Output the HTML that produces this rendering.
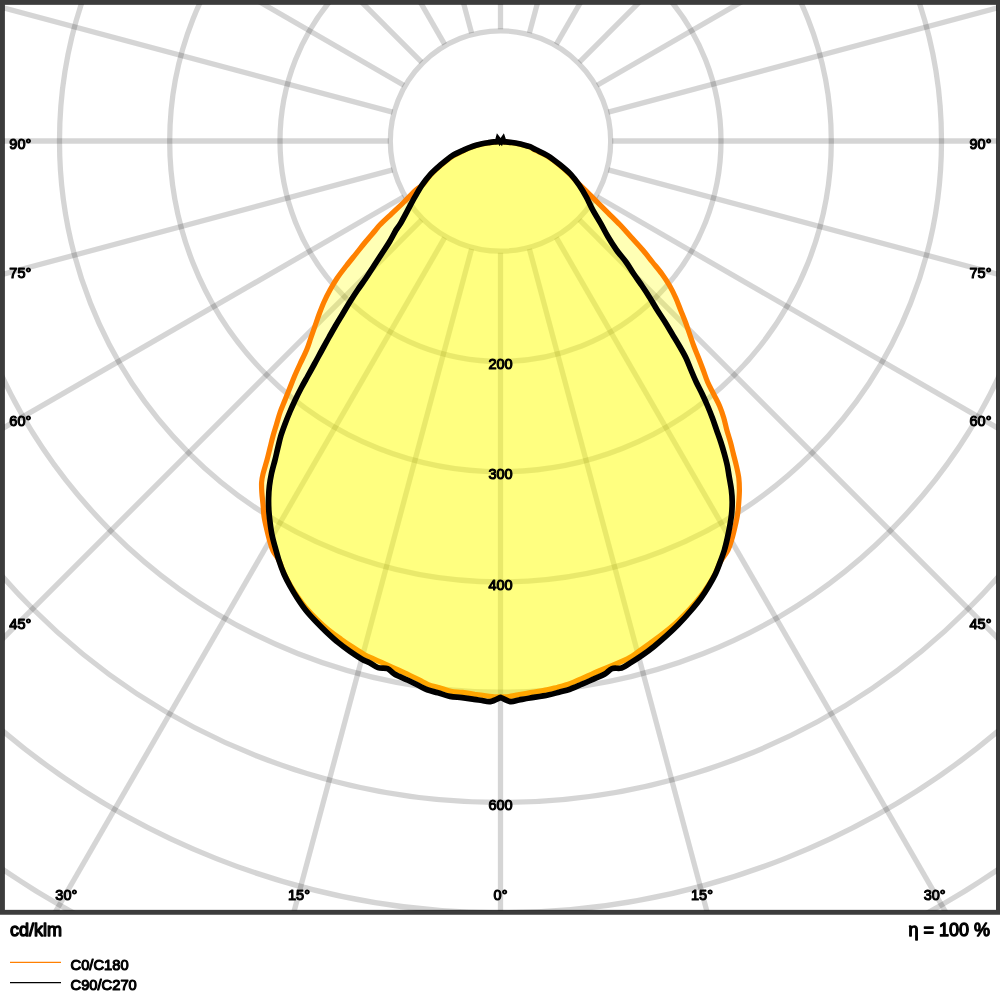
<!DOCTYPE html>
<html><head><meta charset="utf-8"><title>LDC</title>
<style>
html,body{margin:0;padding:0;background:#fff;}
body{width:1000px;height:1000px;overflow:hidden;font-family:"Liberation Sans",sans-serif;}
svg{display:block;}
text{font-family:"Liberation Sans",sans-serif;fill:#000;stroke:#000;paint-order:stroke;stroke-linejoin:round;}
</style></head><body>
<svg width="1000" height="1000" viewBox="0 0 1000 1000">
<rect width="1000" height="1000" fill="#fff"/>
<defs><clipPath id="c"><rect x="4.0" y="4.0" width="992.9" height="906.8"/></clipPath><clipPath id="ci"><rect x="4.8" y="4.8" width="990.8" height="905.1"/></clipPath></defs>
<rect x="2.45" y="2.4" width="996" height="909.9" fill="none" stroke="#3c3c3c" stroke-width="4.9"/>
<g clip-path="url(#c)">
<g fill="none" stroke="#000" stroke-opacity="0.165" stroke-width="5.3">
<circle cx="500.5" cy="141.0" r="110.2"/>
<circle cx="500.5" cy="141.0" r="220.5"/>
<circle cx="500.5" cy="141.0" r="330.8"/>
<circle cx="500.5" cy="141.0" r="441.0"/>
<circle cx="500.5" cy="141.0" r="551.2"/>
<circle cx="500.5" cy="141.0" r="661.5"/>
<circle cx="500.5" cy="141.0" r="771.8"/>
<circle cx="500.5" cy="141.0" r="882.0"/>
<circle cx="500.5" cy="141.0" r="992.2"/>
<line x1="500.50" y1="252.65" x2="500.50" y2="1341.00"/>
<line x1="529.40" y1="248.85" x2="811.08" y2="1300.11"/>
<line x1="556.33" y1="237.69" x2="1100.50" y2="1180.23"/>
<line x1="579.45" y1="219.95" x2="1349.03" y2="989.53"/>
<line x1="597.19" y1="196.83" x2="1539.73" y2="741.00"/>
<line x1="608.35" y1="169.90" x2="1659.61" y2="451.58"/>
<line x1="612.15" y1="141.00" x2="1700.50" y2="141.00"/>
<line x1="608.35" y1="112.10" x2="1659.61" y2="-169.58"/>
<line x1="597.19" y1="85.18" x2="1539.73" y2="-459.00"/>
<line x1="579.45" y1="62.05" x2="1349.03" y2="-707.53"/>
<line x1="556.33" y1="44.31" x2="1100.50" y2="-898.23"/>
<line x1="529.40" y1="33.15" x2="811.08" y2="-1018.11"/>
<line x1="500.50" y1="29.35" x2="500.50" y2="-1059.00"/>
<line x1="471.60" y1="33.15" x2="189.92" y2="-1018.11"/>
<line x1="444.67" y1="44.31" x2="-99.50" y2="-898.23"/>
<line x1="421.55" y1="62.05" x2="-348.03" y2="-707.53"/>
<line x1="403.81" y1="85.17" x2="-538.73" y2="-459.00"/>
<line x1="392.65" y1="112.10" x2="-658.61" y2="-169.58"/>
<line x1="388.85" y1="141.00" x2="-699.50" y2="141.00"/>
<line x1="392.65" y1="169.90" x2="-658.61" y2="451.58"/>
<line x1="403.81" y1="196.83" x2="-538.73" y2="741.00"/>
<line x1="421.55" y1="219.95" x2="-348.03" y2="989.53"/>
<line x1="444.67" y1="237.69" x2="-99.50" y2="1180.23"/>
<line x1="471.60" y1="248.85" x2="189.92" y2="1300.11"/>
</g>
<path d="M500.4,141.5C499.3,141.6 496.1,141.9 494.0,142.1C491.9,142.3 490.0,142.6 488.0,142.9C486.0,143.2 484.0,143.6 482.0,144.0C480.0,144.4 478.0,144.9 476.0,145.5C474.0,146.1 472.0,146.8 470.0,147.6C468.0,148.4 467.0,148.8 464.0,150.3C461.0,151.8 456.0,153.9 452.0,156.5C448.0,159.1 443.6,162.9 440.0,166.0C436.4,169.1 433.2,171.9 430.4,175.0C427.6,178.1 425.4,182.0 423.0,184.5C420.6,187.0 419.2,187.1 416.0,190.0C412.8,192.9 408.0,198.1 404.0,202.0C400.0,205.9 396.0,209.6 392.0,213.4C388.0,217.2 382.7,222.0 380.0,224.8C377.3,227.6 378.0,227.1 375.6,230.0C373.2,232.9 368.7,238.0 365.4,242.0C362.1,246.0 359.0,250.0 355.8,254.0C352.6,258.0 349.3,262.0 346.2,266.0C343.1,270.0 339.9,274.0 337.2,278.0C334.5,282.0 332.2,286.0 330.0,290.0C327.8,294.0 325.8,298.0 324.0,302.0C322.2,306.0 320.7,310.0 319.2,314.0C317.7,318.0 316.4,322.0 315.0,326.0C313.6,330.0 312.2,334.0 310.8,338.0C309.4,342.0 308.4,345.7 306.6,350.0C304.8,354.3 302.0,359.7 300.0,364.0C298.0,368.3 296.3,372.0 294.6,376.0C292.9,380.0 291.4,384.0 289.8,388.0C288.2,392.0 286.6,396.0 285.0,400.0C283.4,404.0 281.6,408.0 280.2,412.0C278.8,416.0 277.8,420.0 276.6,424.0C275.4,428.0 274.1,432.0 273.0,436.0C271.9,440.0 271.0,444.0 270.0,448.0C269.0,452.0 268.2,455.7 267.0,460.0C265.8,464.3 263.9,470.3 263.0,474.0C262.1,477.7 261.8,479.4 261.6,482.4C261.4,485.4 261.6,488.4 261.8,492.0C262.0,495.6 262.6,500.0 263.0,504.0C263.4,508.0 263.4,512.0 264.0,516.0C264.6,520.0 265.5,524.0 266.4,528.0C267.3,532.0 268.3,536.2 269.4,540.0C270.5,543.8 271.4,547.5 273.0,550.8C274.6,554.1 276.9,556.1 278.8,560.0C280.7,563.9 282.3,569.6 284.2,573.9C286.2,578.2 288.3,581.8 290.6,585.7C292.9,589.6 295.4,593.5 298.1,597.4C300.9,601.3 303.8,605.3 306.9,609.0C310.0,612.6 313.3,615.9 316.8,619.3C320.3,622.7 324.0,626.2 328.0,629.5C332.0,632.7 336.6,636.1 340.8,639.0C344.9,642.0 348.9,644.7 352.9,647.3C356.8,649.9 361.4,652.9 364.6,654.7C367.8,656.5 364.4,654.7 372.0,658.2C379.6,661.7 401.9,671.6 410.2,675.5C418.6,679.4 419.2,680.0 422.3,681.5C425.5,683.1 426.1,683.9 429.0,684.9C431.8,686.0 435.8,686.7 439.4,687.8C443.1,688.9 447.2,690.5 451.0,691.3C454.9,692.1 458.7,691.9 462.6,692.4C466.6,692.9 471.4,693.8 474.7,694.3C478.1,694.7 479.8,695.0 482.7,695.3C485.6,695.7 489.0,696.3 492.0,696.6C495.0,696.9 499.2,696.9 500.6,697.0C502.0,696.9 506.1,697.0 509.0,696.6C511.9,696.2 514.7,695.5 518.1,694.9C521.4,694.3 524.3,693.7 529.1,692.9C533.9,692.0 542.2,690.9 547.0,689.9C551.7,689.0 554.1,688.1 557.7,687.2C561.2,686.2 564.6,685.6 568.3,684.3C572.0,683.0 576.0,681.1 579.9,679.4C583.9,677.7 584.0,677.5 591.9,674.1C599.8,670.6 619.4,662.6 627.3,658.8C635.1,655.0 635.1,653.9 639.0,651.2C643.0,648.5 646.9,645.5 650.9,642.6C655.0,639.6 659.2,636.6 663.4,633.3C667.6,630.1 671.7,626.9 676.0,622.9C680.4,618.9 685.6,613.5 689.6,609.3C693.6,605.0 696.9,601.2 700.0,597.2C703.0,593.3 705.6,589.5 708.1,585.6C710.6,581.7 713.1,577.8 715.1,573.8C717.1,569.9 718.0,566.0 720.2,562.0C722.3,558.0 726.0,554.0 728.0,550.0C730.0,546.0 731.0,542.0 732.2,538.0C733.4,534.0 734.3,530.0 735.2,526.0C736.1,522.0 737.0,518.0 737.6,514.0C738.2,510.0 738.5,506.0 738.8,502.0C739.1,498.0 739.4,494.0 739.4,490.0C739.4,486.0 739.3,482.0 738.8,478.0C738.3,474.0 737.3,470.0 736.4,466.0C735.5,462.0 734.4,458.0 733.4,454.0C732.4,450.0 731.5,446.0 730.4,442.0C729.3,438.0 727.9,434.0 726.8,430.0C725.7,426.0 725.0,422.0 723.8,418.0C722.6,414.0 721.3,410.0 719.6,406.0C717.9,402.0 715.6,398.0 713.6,394.0C711.6,390.0 709.3,386.0 707.6,382.0C705.9,378.0 704.7,374.0 703.2,370.0C701.7,366.0 700.2,362.0 698.6,358.0C697.0,354.0 695.3,350.0 693.8,346.0C692.3,342.0 691.0,338.0 689.6,334.0C688.2,330.0 686.9,326.0 685.4,322.0C683.9,318.0 682.2,314.0 680.6,310.0C679.0,306.0 677.6,302.0 675.8,298.0C674.0,294.0 672.1,290.0 669.8,286.0C667.5,282.0 664.9,278.0 662.0,274.0C659.1,270.0 655.6,266.0 652.4,262.0C649.2,258.0 646.4,254.2 642.8,250.0C639.2,245.8 634.8,241.2 631.0,237.0C627.2,232.8 623.8,228.8 620.0,224.8C616.2,220.8 612.0,216.8 608.0,212.8C604.0,208.8 600.0,204.8 596.0,200.8C592.0,196.8 587.2,191.9 584.0,188.8C580.8,185.7 579.3,184.4 577.0,182.0C574.7,179.6 572.8,177.2 570.0,174.5C567.2,171.8 563.7,168.5 560.0,165.5C556.3,162.5 552.0,159.0 548.0,156.5C544.0,154.0 539.0,152.1 536.0,150.5C533.0,148.9 532.0,147.9 530.0,147.0C528.0,146.1 526.0,145.7 524.0,145.2C522.0,144.7 520.0,144.2 518.0,143.8C516.0,143.4 514.0,143.1 512.0,142.8C510.0,142.5 507.9,142.3 506.0,142.1C504.1,141.9 501.3,141.6 500.4,141.5Z" fill="#ffff00" fill-opacity="0.29"/>
<path d="M500.4,141.5C499.3,141.6 496.1,141.9 494.0,142.1C491.9,142.3 490.0,142.6 488.0,142.9C486.0,143.2 484.0,143.6 482.0,144.0C480.0,144.4 478.0,144.9 476.0,145.5C474.0,146.1 472.0,146.8 470.0,147.6C468.0,148.4 467.0,148.8 464.0,150.3C461.0,151.8 456.0,153.9 452.0,156.5C448.0,159.1 443.6,162.9 440.0,166.0C436.4,169.1 433.2,171.9 430.4,175.0C427.6,178.1 425.4,182.0 423.0,184.5C420.6,187.0 419.2,187.1 416.0,190.0C412.8,192.9 408.0,198.1 404.0,202.0C400.0,205.9 396.0,209.6 392.0,213.4C388.0,217.2 382.7,222.0 380.0,224.8C377.3,227.6 378.0,227.1 375.6,230.0C373.2,232.9 368.7,238.0 365.4,242.0C362.1,246.0 359.0,250.0 355.8,254.0C352.6,258.0 349.3,262.0 346.2,266.0C343.1,270.0 339.9,274.0 337.2,278.0C334.5,282.0 332.2,286.0 330.0,290.0C327.8,294.0 325.8,298.0 324.0,302.0C322.2,306.0 320.7,310.0 319.2,314.0C317.7,318.0 316.4,322.0 315.0,326.0C313.6,330.0 312.2,334.0 310.8,338.0C309.4,342.0 308.4,345.7 306.6,350.0C304.8,354.3 302.0,359.7 300.0,364.0C298.0,368.3 296.3,372.0 294.6,376.0C292.9,380.0 291.4,384.0 289.8,388.0C288.2,392.0 286.6,396.0 285.0,400.0C283.4,404.0 281.6,408.0 280.2,412.0C278.8,416.0 277.8,420.0 276.6,424.0C275.4,428.0 274.1,432.0 273.0,436.0C271.9,440.0 271.0,444.0 270.0,448.0C269.0,452.0 268.2,455.7 267.0,460.0C265.8,464.3 263.9,470.3 263.0,474.0C262.1,477.7 261.8,479.4 261.6,482.4C261.4,485.4 261.6,488.4 261.8,492.0C262.0,495.6 262.6,500.0 263.0,504.0C263.4,508.0 263.4,512.0 264.0,516.0C264.6,520.0 265.5,524.0 266.4,528.0C267.3,532.0 268.3,536.2 269.4,540.0C270.5,543.8 271.4,547.5 273.0,550.8C274.6,554.1 276.9,556.1 278.8,560.0C280.7,563.9 282.3,569.6 284.2,573.9C286.2,578.2 288.3,581.8 290.6,585.7C292.9,589.6 295.4,593.5 298.1,597.4C300.9,601.3 303.8,605.3 306.9,609.0C310.0,612.6 313.3,615.9 316.8,619.3C320.3,622.7 324.0,626.2 328.0,629.5C332.0,632.7 336.6,636.1 340.8,639.0C344.9,642.0 348.9,644.7 352.9,647.3C356.8,649.9 361.4,652.9 364.6,654.7C367.8,656.5 364.4,654.7 372.0,658.2C379.6,661.7 401.9,671.6 410.2,675.5C418.6,679.4 419.2,680.0 422.3,681.5C425.5,683.1 426.1,683.9 429.0,684.9C431.8,686.0 435.8,686.7 439.4,687.8C443.1,688.9 447.2,690.5 451.0,691.3C454.9,692.1 458.7,691.9 462.6,692.4C466.6,692.9 471.4,693.8 474.7,694.3C478.1,694.7 479.8,695.0 482.7,695.3C485.6,695.7 489.0,696.3 492.0,696.6C495.0,696.9 499.2,696.9 500.6,697.0C502.0,696.9 506.1,697.0 509.0,696.6C511.9,696.2 514.7,695.5 518.1,694.9C521.4,694.3 524.3,693.7 529.1,692.9C533.9,692.0 542.2,690.9 547.0,689.9C551.7,689.0 554.1,688.1 557.7,687.2C561.2,686.2 564.6,685.6 568.3,684.3C572.0,683.0 576.0,681.1 579.9,679.4C583.9,677.7 584.0,677.5 591.9,674.1C599.8,670.6 619.4,662.6 627.3,658.8C635.1,655.0 635.1,653.9 639.0,651.2C643.0,648.5 646.9,645.5 650.9,642.6C655.0,639.6 659.2,636.6 663.4,633.3C667.6,630.1 671.7,626.9 676.0,622.9C680.4,618.9 685.6,613.5 689.6,609.3C693.6,605.0 696.9,601.2 700.0,597.2C703.0,593.3 705.6,589.5 708.1,585.6C710.6,581.7 713.1,577.8 715.1,573.8C717.1,569.9 718.0,566.0 720.2,562.0C722.3,558.0 726.0,554.0 728.0,550.0C730.0,546.0 731.0,542.0 732.2,538.0C733.4,534.0 734.3,530.0 735.2,526.0C736.1,522.0 737.0,518.0 737.6,514.0C738.2,510.0 738.5,506.0 738.8,502.0C739.1,498.0 739.4,494.0 739.4,490.0C739.4,486.0 739.3,482.0 738.8,478.0C738.3,474.0 737.3,470.0 736.4,466.0C735.5,462.0 734.4,458.0 733.4,454.0C732.4,450.0 731.5,446.0 730.4,442.0C729.3,438.0 727.9,434.0 726.8,430.0C725.7,426.0 725.0,422.0 723.8,418.0C722.6,414.0 721.3,410.0 719.6,406.0C717.9,402.0 715.6,398.0 713.6,394.0C711.6,390.0 709.3,386.0 707.6,382.0C705.9,378.0 704.7,374.0 703.2,370.0C701.7,366.0 700.2,362.0 698.6,358.0C697.0,354.0 695.3,350.0 693.8,346.0C692.3,342.0 691.0,338.0 689.6,334.0C688.2,330.0 686.9,326.0 685.4,322.0C683.9,318.0 682.2,314.0 680.6,310.0C679.0,306.0 677.6,302.0 675.8,298.0C674.0,294.0 672.1,290.0 669.8,286.0C667.5,282.0 664.9,278.0 662.0,274.0C659.1,270.0 655.6,266.0 652.4,262.0C649.2,258.0 646.4,254.2 642.8,250.0C639.2,245.8 634.8,241.2 631.0,237.0C627.2,232.8 623.8,228.8 620.0,224.8C616.2,220.8 612.0,216.8 608.0,212.8C604.0,208.8 600.0,204.8 596.0,200.8C592.0,196.8 587.2,191.9 584.0,188.8C580.8,185.7 579.3,184.4 577.0,182.0C574.7,179.6 572.8,177.2 570.0,174.5C567.2,171.8 563.7,168.5 560.0,165.5C556.3,162.5 552.0,159.0 548.0,156.5C544.0,154.0 539.0,152.1 536.0,150.5C533.0,148.9 532.0,147.9 530.0,147.0C528.0,146.1 526.0,145.7 524.0,145.2C522.0,144.7 520.0,144.2 518.0,143.8C516.0,143.4 514.0,143.1 512.0,142.8C510.0,142.5 507.9,142.3 506.0,142.1C504.1,141.9 501.3,141.6 500.4,141.5Z" fill="none" stroke="#ff8000" stroke-width="5.2" stroke-linejoin="round"/>
<path d="M500.4,141.5C499.3,141.6 496.1,141.7 494.0,141.9C491.9,142.1 490.0,142.4 488.0,142.7C486.0,143.0 484.0,143.3 482.0,143.7C480.0,144.1 478.0,144.6 476.0,145.2C474.0,145.8 472.0,146.5 470.0,147.3C468.0,148.1 467.0,148.4 464.0,149.8C461.0,151.2 456.0,153.2 452.0,155.8C448.0,158.4 443.6,162.3 440.0,165.4C436.4,168.5 433.4,171.1 430.4,174.4C427.4,177.7 424.6,181.4 422.0,185.2C419.4,189.0 417.2,193.0 414.8,197.2C412.4,201.4 410.0,206.0 407.6,210.4C405.2,214.8 402.3,220.3 400.4,223.6C398.5,226.9 397.8,226.9 396.0,230.0C394.2,233.1 391.8,238.0 389.4,242.0C387.0,246.0 384.2,250.0 381.6,254.0C379.0,258.0 376.4,262.0 373.8,266.0C371.2,270.0 368.7,274.0 366.0,278.0C363.3,282.0 360.3,286.0 357.6,290.0C354.9,294.0 352.3,298.0 349.8,302.0C347.3,306.0 345.0,310.0 342.6,314.0C340.2,318.0 337.7,322.0 335.4,326.0C333.1,330.0 330.8,334.0 328.6,338.0C326.4,342.0 324.4,345.7 322.0,350.0C319.6,354.3 316.8,359.7 314.4,364.0C312.0,368.3 310.0,372.0 307.8,376.0C305.6,380.0 303.3,384.0 301.2,388.0C299.1,392.0 297.1,396.0 295.2,400.0C293.3,404.0 291.5,408.0 289.8,412.0C288.1,416.0 286.5,420.0 285.0,424.0C283.5,428.0 282.0,432.0 280.8,436.0C279.6,440.0 278.8,444.0 277.8,448.0C276.8,452.0 276.1,455.7 275.0,460.0C273.9,464.3 272.3,469.7 271.4,474.0C270.5,478.3 269.9,482.0 269.4,486.0C268.9,490.0 268.7,494.0 268.6,498.0C268.5,502.0 268.6,506.0 268.8,510.0C269.0,514.0 269.5,518.0 270.0,522.0C270.5,526.0 271.0,530.0 271.8,534.0C272.6,538.0 273.6,541.7 274.8,546.0C276.0,550.3 277.3,555.3 278.8,560.0C280.3,564.7 282.1,569.7 284.0,574.0C285.9,578.3 287.8,582.0 290.0,586.0C292.2,590.0 294.6,594.0 297.2,598.0C299.8,602.0 302.6,606.2 305.6,610.0C308.6,613.8 311.8,617.2 315.2,620.8C318.6,624.4 322.2,628.0 326.0,631.6C329.8,635.2 334.0,639.1 338.0,642.4C342.0,645.7 346.0,648.6 350.0,651.4C354.0,654.2 358.7,657.3 362.0,659.2C365.3,661.1 366.9,661.4 369.6,662.8C372.3,664.2 375.0,666.6 378.0,667.6C381.0,668.6 384.8,667.5 387.6,668.6C390.4,669.7 391.4,672.3 394.8,674.2C398.2,676.1 403.8,678.2 408.0,680.2C412.2,682.2 416.8,684.6 420.0,686.2C423.2,687.8 424.2,688.7 427.2,689.8C430.2,690.9 434.2,691.7 438.0,692.8C441.8,693.9 446.0,695.6 450.0,696.4C454.0,697.2 458.0,697.1 462.0,697.6C466.0,698.1 470.7,698.9 474.0,699.4C477.3,699.9 479.3,700.1 482.0,700.5C484.7,700.9 487.3,702.1 490.4,701.6C493.5,701.1 498.9,698.1 500.6,697.4C502.2,698.1 507.1,701.2 510.2,701.6C513.3,702.0 515.7,700.6 519.0,700.0C522.3,699.4 525.2,698.8 530.0,698.0C534.8,697.2 543.2,696.0 548.0,695.0C552.8,694.0 555.3,693.2 559.0,692.2C562.7,691.2 566.2,690.5 570.0,689.2C573.8,687.9 578.0,685.9 582.0,684.2C586.0,682.5 590.2,680.5 594.0,678.8C597.8,677.1 601.8,675.7 604.8,674.0C607.8,672.3 609.2,669.6 612.0,668.6C614.8,667.6 618.6,668.9 621.6,668.0C624.6,667.1 626.6,665.3 630.0,663.2C633.4,661.1 638.0,658.2 642.0,655.4C646.0,652.6 650.0,649.6 654.0,646.4C658.0,643.2 662.0,639.8 666.0,636.2C670.0,632.6 673.8,629.1 678.0,624.8C682.2,620.5 687.2,615.0 691.0,610.5C694.8,606.0 698.0,602.1 701.0,598.0C704.0,593.9 706.4,590.0 708.8,586.0C711.2,582.0 713.5,578.0 715.4,574.0C717.3,570.0 718.7,566.0 720.2,562.0C721.7,558.0 723.2,554.0 724.4,550.0C725.6,546.0 726.5,542.0 727.4,538.0C728.3,534.0 729.1,530.0 729.8,526.0C730.5,522.0 731.2,518.0 731.6,514.0C732.0,510.0 732.2,506.0 732.2,502.0C732.2,498.0 731.9,494.0 731.4,490.0C730.9,486.0 730.1,482.0 729.4,478.0C728.7,474.0 728.2,470.0 727.4,466.0C726.6,462.0 725.5,458.0 724.4,454.0C723.3,450.0 722.1,446.0 720.8,442.0C719.5,438.0 718.0,434.0 716.6,430.0C715.2,426.0 713.9,422.0 712.4,418.0C710.9,414.0 709.3,410.0 707.6,406.0C705.9,402.0 704.1,398.0 702.2,394.0C700.3,390.0 698.1,386.0 696.2,382.0C694.3,378.0 692.7,374.0 691.0,370.0C689.3,366.0 687.9,362.0 686.0,358.0C684.1,354.0 681.7,350.0 679.4,346.0C677.1,342.0 674.6,338.0 672.2,334.0C669.8,330.0 667.5,326.0 665.0,322.0C662.5,318.0 659.7,314.0 657.2,310.0C654.7,306.0 652.5,302.0 650.0,298.0C647.5,294.0 644.9,290.0 642.2,286.0C639.5,282.0 636.5,278.0 633.8,274.0C631.1,270.0 628.9,266.0 626.0,262.0C623.1,258.0 619.5,254.2 616.5,250.0C613.5,245.8 610.6,241.2 608.0,236.8C605.4,232.4 603.3,228.0 600.8,223.6C598.3,219.2 595.4,214.8 593.0,210.4C590.6,206.0 588.7,201.4 586.4,197.2C584.1,193.0 581.8,189.0 579.2,185.2C576.6,181.4 574.0,177.8 570.8,174.4C567.6,171.0 563.8,167.9 560.0,164.8C556.2,161.7 552.0,158.3 548.0,155.8C544.0,153.3 539.0,151.3 536.0,149.8C533.0,148.3 532.0,147.5 530.0,146.7C528.0,145.9 526.0,145.4 524.0,144.9C522.0,144.4 520.0,143.9 518.0,143.5C516.0,143.1 514.0,142.8 512.0,142.5C510.0,142.2 507.9,142.1 506.0,141.9C504.1,141.7 501.3,141.6 500.4,141.5Z" fill="#ffff00" fill-opacity="0.29"/>
<path d="M500.4,141.5C499.3,141.6 496.1,141.7 494.0,141.9C491.9,142.1 490.0,142.4 488.0,142.7C486.0,143.0 484.0,143.3 482.0,143.7C480.0,144.1 478.0,144.6 476.0,145.2C474.0,145.8 472.0,146.5 470.0,147.3C468.0,148.1 467.0,148.4 464.0,149.8C461.0,151.2 456.0,153.2 452.0,155.8C448.0,158.4 443.6,162.3 440.0,165.4C436.4,168.5 433.4,171.1 430.4,174.4C427.4,177.7 424.6,181.4 422.0,185.2C419.4,189.0 417.2,193.0 414.8,197.2C412.4,201.4 410.0,206.0 407.6,210.4C405.2,214.8 402.3,220.3 400.4,223.6C398.5,226.9 397.8,226.9 396.0,230.0C394.2,233.1 391.8,238.0 389.4,242.0C387.0,246.0 384.2,250.0 381.6,254.0C379.0,258.0 376.4,262.0 373.8,266.0C371.2,270.0 368.7,274.0 366.0,278.0C363.3,282.0 360.3,286.0 357.6,290.0C354.9,294.0 352.3,298.0 349.8,302.0C347.3,306.0 345.0,310.0 342.6,314.0C340.2,318.0 337.7,322.0 335.4,326.0C333.1,330.0 330.8,334.0 328.6,338.0C326.4,342.0 324.4,345.7 322.0,350.0C319.6,354.3 316.8,359.7 314.4,364.0C312.0,368.3 310.0,372.0 307.8,376.0C305.6,380.0 303.3,384.0 301.2,388.0C299.1,392.0 297.1,396.0 295.2,400.0C293.3,404.0 291.5,408.0 289.8,412.0C288.1,416.0 286.5,420.0 285.0,424.0C283.5,428.0 282.0,432.0 280.8,436.0C279.6,440.0 278.8,444.0 277.8,448.0C276.8,452.0 276.1,455.7 275.0,460.0C273.9,464.3 272.3,469.7 271.4,474.0C270.5,478.3 269.9,482.0 269.4,486.0C268.9,490.0 268.7,494.0 268.6,498.0C268.5,502.0 268.6,506.0 268.8,510.0C269.0,514.0 269.5,518.0 270.0,522.0C270.5,526.0 271.0,530.0 271.8,534.0C272.6,538.0 273.6,541.7 274.8,546.0C276.0,550.3 277.3,555.3 278.8,560.0C280.3,564.7 282.1,569.7 284.0,574.0C285.9,578.3 287.8,582.0 290.0,586.0C292.2,590.0 294.6,594.0 297.2,598.0C299.8,602.0 302.6,606.2 305.6,610.0C308.6,613.8 311.8,617.2 315.2,620.8C318.6,624.4 322.2,628.0 326.0,631.6C329.8,635.2 334.0,639.1 338.0,642.4C342.0,645.7 346.0,648.6 350.0,651.4C354.0,654.2 358.7,657.3 362.0,659.2C365.3,661.1 366.9,661.4 369.6,662.8C372.3,664.2 375.0,666.6 378.0,667.6C381.0,668.6 384.8,667.5 387.6,668.6C390.4,669.7 391.4,672.3 394.8,674.2C398.2,676.1 403.8,678.2 408.0,680.2C412.2,682.2 416.8,684.6 420.0,686.2C423.2,687.8 424.2,688.7 427.2,689.8C430.2,690.9 434.2,691.7 438.0,692.8C441.8,693.9 446.0,695.6 450.0,696.4C454.0,697.2 458.0,697.1 462.0,697.6C466.0,698.1 470.7,698.9 474.0,699.4C477.3,699.9 479.3,700.1 482.0,700.5C484.7,700.9 487.3,702.1 490.4,701.6C493.5,701.1 498.9,698.1 500.6,697.4C502.2,698.1 507.1,701.2 510.2,701.6C513.3,702.0 515.7,700.6 519.0,700.0C522.3,699.4 525.2,698.8 530.0,698.0C534.8,697.2 543.2,696.0 548.0,695.0C552.8,694.0 555.3,693.2 559.0,692.2C562.7,691.2 566.2,690.5 570.0,689.2C573.8,687.9 578.0,685.9 582.0,684.2C586.0,682.5 590.2,680.5 594.0,678.8C597.8,677.1 601.8,675.7 604.8,674.0C607.8,672.3 609.2,669.6 612.0,668.6C614.8,667.6 618.6,668.9 621.6,668.0C624.6,667.1 626.6,665.3 630.0,663.2C633.4,661.1 638.0,658.2 642.0,655.4C646.0,652.6 650.0,649.6 654.0,646.4C658.0,643.2 662.0,639.8 666.0,636.2C670.0,632.6 673.8,629.1 678.0,624.8C682.2,620.5 687.2,615.0 691.0,610.5C694.8,606.0 698.0,602.1 701.0,598.0C704.0,593.9 706.4,590.0 708.8,586.0C711.2,582.0 713.5,578.0 715.4,574.0C717.3,570.0 718.7,566.0 720.2,562.0C721.7,558.0 723.2,554.0 724.4,550.0C725.6,546.0 726.5,542.0 727.4,538.0C728.3,534.0 729.1,530.0 729.8,526.0C730.5,522.0 731.2,518.0 731.6,514.0C732.0,510.0 732.2,506.0 732.2,502.0C732.2,498.0 731.9,494.0 731.4,490.0C730.9,486.0 730.1,482.0 729.4,478.0C728.7,474.0 728.2,470.0 727.4,466.0C726.6,462.0 725.5,458.0 724.4,454.0C723.3,450.0 722.1,446.0 720.8,442.0C719.5,438.0 718.0,434.0 716.6,430.0C715.2,426.0 713.9,422.0 712.4,418.0C710.9,414.0 709.3,410.0 707.6,406.0C705.9,402.0 704.1,398.0 702.2,394.0C700.3,390.0 698.1,386.0 696.2,382.0C694.3,378.0 692.7,374.0 691.0,370.0C689.3,366.0 687.9,362.0 686.0,358.0C684.1,354.0 681.7,350.0 679.4,346.0C677.1,342.0 674.6,338.0 672.2,334.0C669.8,330.0 667.5,326.0 665.0,322.0C662.5,318.0 659.7,314.0 657.2,310.0C654.7,306.0 652.5,302.0 650.0,298.0C647.5,294.0 644.9,290.0 642.2,286.0C639.5,282.0 636.5,278.0 633.8,274.0C631.1,270.0 628.9,266.0 626.0,262.0C623.1,258.0 619.5,254.2 616.5,250.0C613.5,245.8 610.6,241.2 608.0,236.8C605.4,232.4 603.3,228.0 600.8,223.6C598.3,219.2 595.4,214.8 593.0,210.4C590.6,206.0 588.7,201.4 586.4,197.2C584.1,193.0 581.8,189.0 579.2,185.2C576.6,181.4 574.0,177.8 570.8,174.4C567.6,171.0 563.8,167.9 560.0,164.8C556.2,161.7 552.0,158.3 548.0,155.8C544.0,153.3 539.0,151.3 536.0,149.8C533.0,148.3 532.0,147.5 530.0,146.7C528.0,145.9 526.0,145.4 524.0,144.9C522.0,144.4 520.0,143.9 518.0,143.5C516.0,143.1 514.0,142.8 512.0,142.5C510.0,142.2 507.9,142.1 506.0,141.9C504.1,141.7 501.3,141.6 500.4,141.5Z" fill="none" stroke="#000" stroke-width="5.7" stroke-linejoin="round"/>
<path d="M495.2,139.5L496.9,133.3L500.6,138L503.9,133.3L506,139.5Z M498.4,143.5L499.3,146.3L500.6,144.4L502,146.3L502.9,143.5Z" fill="#000"/>
</g>
<g opacity="0.999">
<text transform="translate(20.3 149.1) scale(1 1)" text-anchor="middle" font-size="14.5" stroke-width="1.1">90°</text>
<text transform="translate(980.5 149.1) scale(1 1)" text-anchor="middle" font-size="14.5" stroke-width="1.1">90°</text>
<text transform="translate(20.3 277.7) scale(1 1)" text-anchor="middle" font-size="14.5" stroke-width="1.1">75°</text>
<text transform="translate(980.5 277.7) scale(1 1)" text-anchor="middle" font-size="14.5" stroke-width="1.1">75°</text>
<text transform="translate(20.3 426.3) scale(1 1)" text-anchor="middle" font-size="14.5" stroke-width="1.1">60°</text>
<text transform="translate(980.5 426.3) scale(1 1)" text-anchor="middle" font-size="14.5" stroke-width="1.1">60°</text>
<text transform="translate(20.3 629.2) scale(1 1)" text-anchor="middle" font-size="14.5" stroke-width="1.1">45°</text>
<text transform="translate(980.5 629.2) scale(1 1)" text-anchor="middle" font-size="14.5" stroke-width="1.1">45°</text>
<text transform="translate(66.3 900.4) scale(1 1)" text-anchor="middle" font-size="14.5" stroke-width="1.1">30°</text>
<text transform="translate(299.0 900.4) scale(1 1)" text-anchor="middle" font-size="14.5" stroke-width="1.1">15°</text>
<text transform="translate(500.5 900.4) scale(1 1)" text-anchor="middle" font-size="14.5" stroke-width="1.1">0°</text>
<text transform="translate(702.0 900.4) scale(1 1)" text-anchor="middle" font-size="14.5" stroke-width="1.1">15°</text>
<text transform="translate(934.7 900.4) scale(1 1)" text-anchor="middle" font-size="14.5" stroke-width="1.1">30°</text>
<text transform="translate(500.5 369.1) scale(1 1)" text-anchor="middle" font-size="14.5" stroke-width="1.1">200</text>
<text transform="translate(500.5 479.4) scale(1 1)" text-anchor="middle" font-size="14.5" stroke-width="1.1">300</text>
<text transform="translate(500.5 589.6) scale(1 1)" text-anchor="middle" font-size="14.5" stroke-width="1.1">400</text>
<text transform="translate(500.5 810.1) scale(1 1)" text-anchor="middle" font-size="14.5" stroke-width="1.1">600</text>
<text x="10" y="935.9" font-size="18" stroke-width="1.3">cd/klm</text>
<text x="990" y="936.4" text-anchor="end" font-size="18" stroke-width="1.3">η = 100 %</text>
<line x1="10" y1="962.3" x2="61" y2="962.3" stroke="#ff8000" stroke-width="1.2"/>
<line x1="10" y1="982.7" x2="61" y2="982.7" stroke="#000" stroke-width="1.2"/>
<text x="70.6" y="970.4" font-size="14.7" stroke-width="1.1">C0/C180</text>
<text x="70.6" y="990.4" font-size="14.7" stroke-width="1.1">C90/C270</text>
</g>
</svg>
</body></html>
